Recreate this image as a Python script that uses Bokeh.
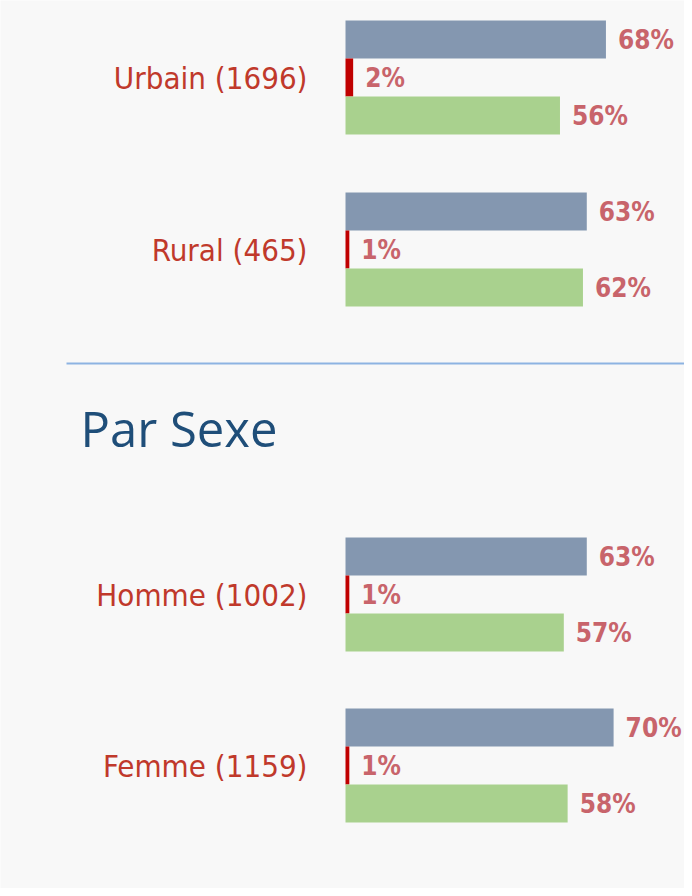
from bokeh.plotting import figure
from bokeh.models import Range1d, ColumnDataSource
from bokeh.core.properties import value
from bokeh.embed import file_html
from bokeh.resources import INLINE

# ---- data ----
categories = ["Urbain (1696)", "Rural (465)", "Homme (1002)", "Femme (1159)"]
serie_bleue = [68, 63, 63, 70]
serie_rouge = [2, 1, 1, 1]
serie_verte = [56, 62, 57, 58]
section_title = "Par Sexe"

# ---- layout ----
W, H = 684, 888
PX = 3.83          # pixels per percent
X0 = 345           # pixel of value 0 inside figure
centers = [85, 257, 602, 773]   # page y of each group's centre
BAR_H = 38

BG = "#f8f8f8"
C_BLUE = "#8497b0"
C_RED = "#c00000"
C_GREEN = "#a9d18e"
C_LABEL = "#c0392b"
C_VAL = "#c8646b"
COND = "DejaVu Sans Condensed"

p = figure(width=W, height=H, output_backend="svg", toolbar_location=None,
           x_range=Range1d(-X0 / PX, (W - X0) / PX),
           y_range=Range1d(896, 8), min_border=0)
p.axis.visible = False
p.grid.visible = False
p.outline_line_color = None
p.background_fill_color = BG
p.border_fill_color = BG

yb = [c - BAR_H for c in centers]
yr = list(centers)
yg = [c + BAR_H for c in centers]

p.hbar(y=yb, left=0, right=serie_bleue, height=BAR_H, fill_color=C_BLUE, line_color=None)
p.hbar(y=yr, left=0, right=serie_rouge, height=BAR_H, fill_color=C_RED, line_color=None)
p.hbar(y=yg, left=0, right=serie_verte, height=BAR_H, fill_color=C_GREEN, line_color=None)

off = 12 / PX
vals = serie_bleue + serie_rouge + serie_verte
ys = yb + yr + yg
src = ColumnDataSource(dict(x=[v + off for v in vals], y=ys,
                            t=[f"{v}%" for v in vals]))
p.text(x="x", y="y", text="t", source=src, text_color=C_VAL,
       text_font=value(COND), text_font_style="bold",
       text_font_size="26px", text_baseline="middle", text_align="left")

lsrc = ColumnDataSource(dict(x=[-38 / PX] * len(categories), y=centers, t=categories))
p.text(x="x", y="y", text="t", source=lsrc, text_color=C_LABEL,
       text_font=value(COND), text_font_size="31px",
       text_baseline="middle", text_align="right")

# divider line and section title
p.segment(x0=[-(353 - 74) / PX], x1=[(W - X0) / PX], y0=[371], y1=[371],
          line_color="#8db3e2", line_width=2)
p.text(x=[-(353 - 88) / PX], y=[435], text=[section_title], text_color="#1f4e79",
       text_font=value("Open Sans"), text_font_size="49px",
       text_baseline="middle", text_align="left")

open("out.html", "w").write(file_html(p, INLINE))
